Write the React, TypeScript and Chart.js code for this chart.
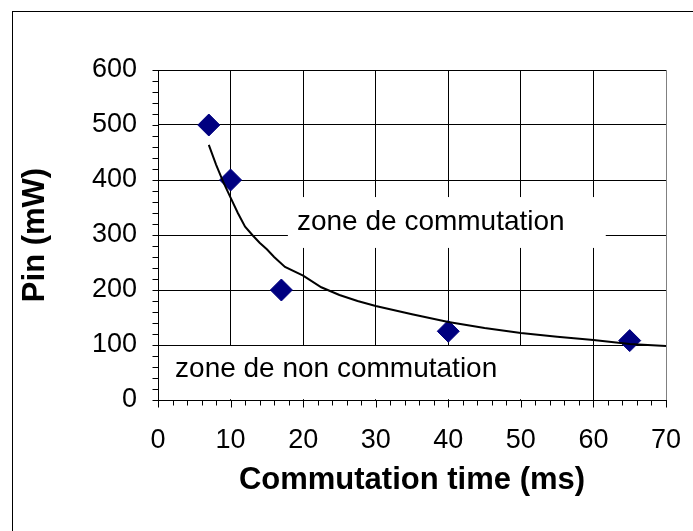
import React, { useEffect, useRef } from "react";
import { Chart, registerables } from "chart.js";

Chart.register(...registerables);

// Measured points (diamonds)
const timeMs = [7, 10, 17, 40, 65];
const pinMw = [500, 400, 200, 125, 108];

// Trend curve
const curveX = [7, 8, 9, 10, 11, 12, 13, 14, 15, 16, 17.5, 20, 22.5, 25, 27.5, 30, 35, 40, 45, 50, 55, 60, 65, 70];
const curveY = [464, 428, 396, 368, 340, 315, 300, 286, 274, 260, 242, 226, 205, 191, 180, 171, 156, 142, 131, 122, 115, 109, 102, 98];

const xTicks = [0, 10, 20, 30, 40, 50, 60, 70];
const yTicks = [0, 100, 200, 300, 400, 500, 600];

const zoneLabels = ["zone de commutation", "zone de non commutation"];

const FONT = "'Liberation Sans', Arial, sans-serif";

// annotation boxes in data units: [x1, x2, yTop, yBottom, textX, textBaselineY]
const zoneBoxes = [
  [17.9, 61.7, 369, 276.5, 19.15, 309],
  [1.25, 52.8, 98.2, 1.5, 2.35, 41.3],
];

const decorPlugin = {
  id: "decor",
  beforeDraw(chart: any) {
    const ctx = chart.ctx;
    ctx.save();
    ctx.fillStyle = "#fff";
    ctx.fillRect(0, 0, chart.width, chart.height);
    ctx.strokeStyle = "#000";
    ctx.lineWidth = 1;
    ctx.strokeRect(12.5, 11.5, 800, 700);
    ctx.restore();
  },
  beforeDatasetsDraw(chart: any) {
    const ctx = chart.ctx;
    const xs = chart.scales.x;
    const ys = chart.scales.y;
    ctx.save();
    // zone boxes
    zoneBoxes.forEach((b, i) => {
      const x1 = xs.getPixelForValue(b[0]);
      const x2 = xs.getPixelForValue(b[1]);
      const y1 = ys.getPixelForValue(b[2]);
      const y2 = ys.getPixelForValue(b[3]);
      ctx.fillStyle = "#fff";
      ctx.fillRect(x1, y1, x2 - x1, y2 - y1);
      ctx.fillStyle = "#000";
      ctx.font = `28px ${FONT}`;
      ctx.textAlign = "left";
      ctx.textBaseline = "alphabetic";
      ctx.fillText(zoneLabels[i], xs.getPixelForValue(b[4]), ys.getPixelForValue(b[5]));
    });
    // minor ticks
    ctx.strokeStyle = "#000";
    ctx.lineWidth = 1;
    ctx.beginPath();
    const left = Math.round(xs.left) + 0.5;
    for (let v = 0; v <= 600; v += 20) {
      const y = Math.round(ys.getPixelForValue(v)) + 0.5;
      ctx.moveTo(left - 6, y);
      ctx.lineTo(left, y);
    }
    const bottom = Math.round(ys.bottom) + 0.5;
    for (let v = 0; v <= 70; v += 2) {
      const x = Math.round(xs.getPixelForValue(v)) + 0.5;
      ctx.moveTo(x, bottom);
      ctx.lineTo(x, bottom + (v % 10 === 0 ? 7 : 5));
    }
    ctx.stroke();
    ctx.restore();
  },
};

export default function App() {
  const ref = useRef<HTMLCanvasElement>(null);
  useEffect(() => {
    if (!ref.current) return;
    const chart = new Chart(ref.current, {
      type: "scatter",
      data: {
        datasets: [
          {
            label: "trend",
            data: curveX.map((x, i) => ({ x, y: curveY[i] })),
            showLine: true,
            borderColor: "#000",
            borderWidth: 2,
            pointRadius: 0,
            tension: 0,
            order: 0,
          },
          {
            label: "Pin",
            data: timeMs.map((x, i) => ({ x, y: pinMw[i] })),
            pointStyle: "rectRot",
            pointRadius: 11,
            backgroundColor: "#000080",
            borderColor: "#000080",
            borderWidth: 1,
            order: 1,
          },
        ],
      },
      options: {
        responsive: false,
        animation: false,
        layout: { padding: { left: 0, top: 70, right: 27, bottom: 0 } },
        plugins: { legend: { display: false }, tooltip: { enabled: false } },
        scales: {
          x: {
            type: "linear",
            min: 0,
            max: 70,
            afterBuildTicks: (s: any) => {
              s.ticks = xTicks.map((v) => ({ value: v }));
            },
            afterFit: (s: any) => {
              s.height = 131;
            },
            grid: {
              color: (c: any) => (c.tick && c.tick.value === 70 ? "#808080" : "#000"),
              drawTicks: true,
              tickLength: 24,
              tickColor: "rgba(0,0,0,0)",
              lineWidth: 1,
            },
            border: { display: true, color: "#000", width: 1 },
            ticks: {
              color: "#000",
              padding: 0,
              font: { family: FONT, size: 27 },
              maxRotation: 0,
            },
            title: {
              display: true,
              text: "Commutation time (ms)",
              color: "#000",
              font: { family: FONT, size: 31, weight: "bold" },
              padding: { top: 0, bottom: 32 },
            },
          },
          y: {
            type: "linear",
            min: 0,
            max: 600,
            afterBuildTicks: (s: any) => {
              s.ticks = yTicks.map((v) => ({ value: v }));
            },
            afterFit: (s: any) => {
              s.width = 158;
            },
            grid: {
              color: "#000",
              drawTicks: true,
              tickLength: 21,
              tickColor: "rgba(0,0,0,0)",
              lineWidth: 1,
            },
            border: { display: true, color: "#000", width: 1 },
            ticks: {
              color: "#000",
              padding: 0,
              font: { family: FONT, size: 27 },
            },
            title: {
              display: true,
              text: "Pin (mW)",
              color: "#000",
              font: { family: FONT, size: 31, weight: "bold" },
              padding: { top: 17, bottom: 0 },
            },
          },
        },
      },
      plugins: [decorPlugin],
    } as any);
    return () => chart.destroy();
  }, []);
  return (
    <div style={{ position: "absolute", left: 0, top: 0, width: 693, height: 531 }}>
      <canvas ref={ref} width={693} height={531} />
    </div>
  );
}
